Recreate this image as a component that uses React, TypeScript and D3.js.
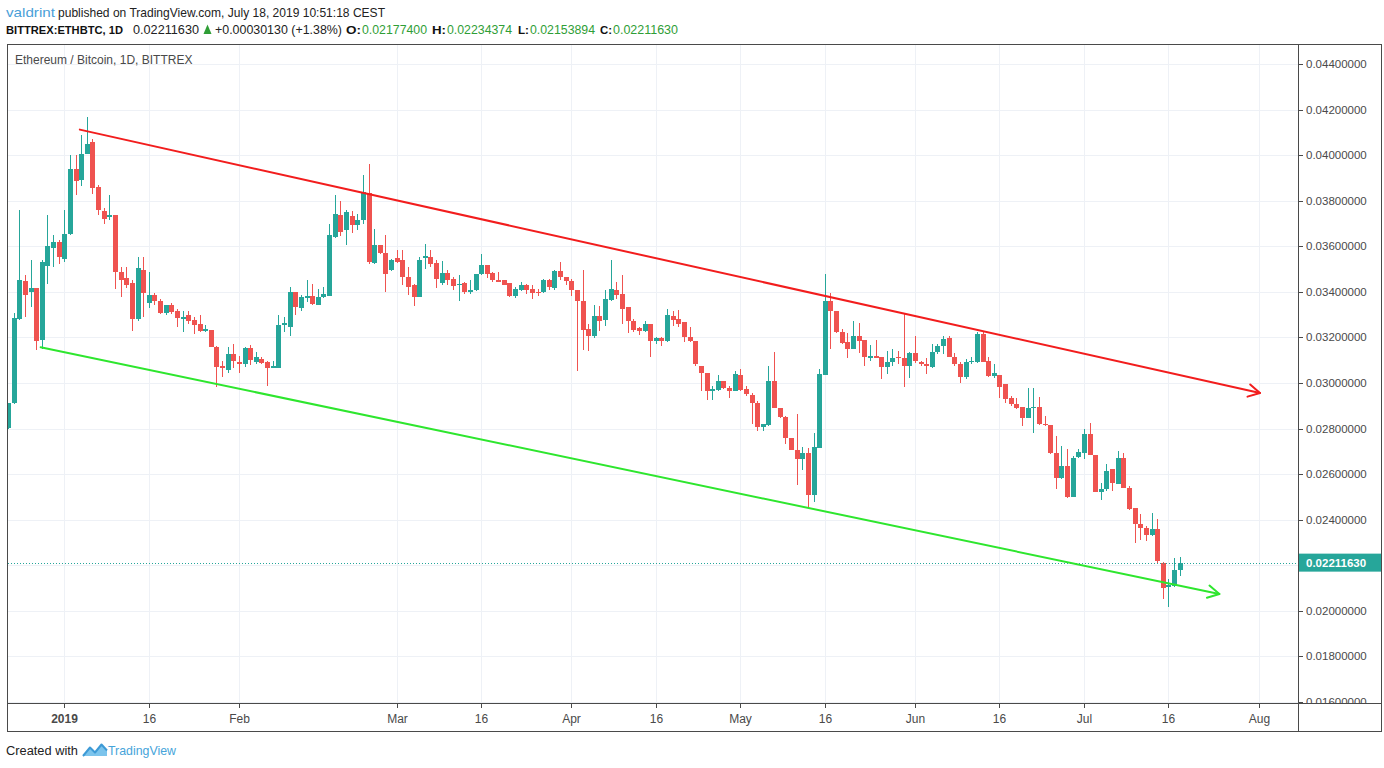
import React from "react";
import * as d3 from "d3";

// Prices are stored in units of 1e-5 BTC (e.g. 3452 = 0.03452000)
const UNIT = 1e-5;
const FIRST_DAY = "2018-12-22";

const opens = [
  2804, 2912, 3281, 3447, 3401, 3418, 3189, 3513, 3592, 3618,
  3545, 3652, 3938, 3890, 4007, 4056, 3858, 3755, 3728, 3736,
  3486, 3460, 3440, 3281, 3497, 3350, 3388, 3362, 3306, 3343,
  3315, 3279, 3299, 3277, 3259, 3230, 3233, 3159, 3076, 3058,
  3127, 3093, 3083, 3154, 3090, 3105, 3093, 3066, 3068, 3255,
  3247, 3398, 3330, 3374, 3384, 3344, 3376, 3384, 3640, 3736,
  3670, 3733, 3692, 3714, 3834, 3526, 3604, 3570, 3494, 3550,
  3538, 3467, 3428, 3376, 3550, 3552, 3526, 3440, 3484, 3457,
  3428, 3438, 3401, 3406, 3479, 3519, 3482, 3453, 3450, 3438,
  3384, 3406, 3428, 3413, 3401, 3398, 3453, 3418, 3490, 3464,
  3447, 3406, 3362, 3237, 3208, 3296, 3277, 3365, 3409, 3391,
  3332, 3271, 3242, 3227, 3259, 3183, 3198, 3183, 3296, 3281,
  3266, 3203, 3183, 3076, 3046, 2963, 2969, 3007, 2978, 2966,
  3035, 2973, 2948, 2914, 2807, 2816, 3007, 2890, 2851, 2760,
  2706, 2665, 2694, 2507, 2716, 3036, 3362, 3318, 3222, 3178,
  3149, 3205, 3189, 3110, 3120, 3115, 3071, 3090, 3115, 3110,
  3076, 3130, 3093, 3083, 3071, 3134, 3164, 3198, 3115, 3083,
  3027, 3090, 3093, 3215, 3098, 3032, 3036, 2995, 2934, 2910,
  2895, 2846, 2890, 2895, 2822, 2816, 2694, 2584, 2636, 2499,
  2675, 2694, 2778, 2684, 2523, 2533, 2621, 2558, 2672, 2540,
  2450, 2382, 2364, 2332, 2360, 2210, 2103, 2108, 2177.4,
];

const highs = [
  2914, 3307, 3758, 3476, 3542, 3419, 3542, 3736, 3648, 3626,
  3758, 4000, 4000, 4088, 4168, 4069, 3868, 3770, 3824, 3736,
  3511, 3508, 3450, 3552, 3555, 3486, 3394, 3369, 3343, 3350,
  3325, 3318, 3318, 3288, 3299, 3256, 3233, 3164, 3098, 3156,
  3171, 3120, 3156, 3168, 3137, 3112, 3098, 3098, 3300, 3291,
  3420, 3398, 3388, 3450, 3435, 3413, 3420, 3699, 3827, 3799,
  3758, 3755, 3740, 3915, 3960, 3674, 3607, 3648, 3545, 3585,
  3582, 3511, 3435, 3555, 3608, 3585, 3541, 3535, 3494, 3464,
  3475, 3442, 3450, 3479, 3567, 3519, 3486, 3486, 3453, 3438,
  3420, 3442, 3435, 3428, 3413, 3457, 3457, 3494, 3530, 3464,
  3457, 3406, 3494, 3259, 3344, 3340, 3406, 3538, 3442, 3476,
  3332, 3281, 3244, 3271, 3259, 3203, 3200, 3325, 3318, 3321,
  3266, 3244, 3186, 3076, 3046, 2988, 3036, 3010, 2988, 3051,
  3061, 2988, 2958, 2922, 2819, 3076, 3134, 2892, 2856, 2760,
  2866, 2719, 2716, 2782, 3061, 3479, 3394, 3318, 3237, 3218,
  3271, 3262, 3189, 3168, 3189, 3115, 3142, 3149, 3142, 3303,
  3134, 3208, 3098, 3110, 3171, 3171, 3208, 3208, 3130, 3090,
  3105, 3112, 3222, 3225, 3115, 3083, 3036, 2995, 2944, 2936,
  2895, 2978, 2978, 2939, 2856, 2816, 2768, 2724, 2709, 2680,
  2709, 2797, 2826, 2684, 2562, 2643, 2621, 2702, 2694, 2548,
  2452, 2423, 2372, 2430, 2401, 2215, 2142, 2232, 2234.374,
];

const lows = [
  2800, 2910, 3278, 3288, 3335, 3146, 3150, 3436, 3511, 3523,
  3530, 3648, 3824, 3863, 4007, 3831, 3736, 3699, 3717, 3413,
  3376, 3418, 3230, 3274, 3291, 3330, 3344, 3303, 3299, 3303,
  3244, 3222, 3259, 3215, 3222, 3222, 3156, 2983, 3027, 3046,
  3068, 3046, 3071, 3080, 3083, 3083, 2988, 3066, 3066, 3222,
  3208, 3300, 3318, 3354, 3344, 3344, 3374, 3381, 3637, 3643,
  3604, 3658, 3670, 3696, 3523, 3523, 3567, 3398, 3490, 3526,
  3432, 3388, 3340, 3376, 3501, 3508, 3418, 3432, 3431, 3406,
  3362, 3391, 3391, 3403, 3476, 3460, 3442, 3442, 3428, 3376,
  3374, 3403, 3391, 3369, 3384, 3396, 3409, 3409, 3453, 3428,
  3384, 3054, 3145, 3142, 3198, 3227, 3252, 3362, 3369, 3259,
  3218, 3222, 3212, 3222, 3115, 3171, 3164, 3178, 3252, 3244,
  3178, 3178, 3076, 2966, 2925, 2925, 2963, 2973, 2936, 2963,
  2966, 2944, 2822, 2790, 2790, 2812, 2892, 2848, 2731, 2705,
  2551, 2617, 2455, 2479, 2716, 3036, 3149, 3218, 3171, 3110,
  3149, 3130, 3076, 3098, 3110, 3017, 3039, 3076, 3083, 2983,
  3024, 3086, 3076, 3039, 3066, 3127, 3127, 3112, 3076, 2998,
  3017, 3083, 3086, 3090, 3027, 3024, 2936, 2914, 2900, 2885,
  2812, 2846, 2782, 2816, 2812, 2690, 2533, 2577, 2496, 2499,
  2672, 2665, 2684, 2523, 2485, 2526, 2526, 2555, 2538, 2441,
  2298, 2313, 2306, 2328, 2210, 2054, 2015, 2103, 2153.894,
];

const closes = [
  2914, 3285, 3450, 3388, 3416, 3186, 3533, 3601, 3618, 3552,
  3655, 3938, 3887, 4007, 4047, 3856, 3761, 3718, 3736, 3486,
  3454, 3428, 3281, 3506, 3394, 3388, 3362, 3308, 3343, 3313,
  3286, 3291, 3274, 3256, 3227, 3235, 3159, 3071, 3068, 3127,
  3098, 3083, 3154, 3101, 3112, 3086, 3068, 3076, 3256, 3262,
  3398, 3332, 3376, 3381, 3347, 3379, 3391, 3648, 3743, 3662,
  3752, 3692, 3717, 3840, 3533, 3607, 3570, 3479, 3541, 3533,
  3467, 3420, 3376, 3538, 3558, 3523, 3457, 3484, 3450, 3425,
  3435, 3398, 3409, 3479, 3519, 3479, 3450, 3445, 3431, 3384,
  3413, 3428, 3410, 3396, 3397, 3453, 3420, 3490, 3464, 3447,
  3406, 3358, 3234, 3208, 3296, 3274, 3369, 3413, 3388, 3325,
  3271, 3233, 3227, 3259, 3186, 3198, 3186, 3299, 3277, 3259,
  3203, 3183, 3083, 3046, 2966, 2973, 3007, 2978, 2966, 3039,
  2969, 2951, 2914, 2807, 2819, 3007, 2892, 2851, 2758, 2705,
  2665, 2694, 2507, 2719, 3039, 3362, 3318, 3222, 3174, 3149,
  3205, 3186, 3115, 3120, 3110, 3071, 3093, 3110, 3110, 3076,
  3130, 3095, 3083, 3076, 3134, 3164, 3193, 3115, 3083, 3027,
  3090, 3098, 3215, 3090, 3032, 3042, 2983, 2929, 2907, 2892,
  2846, 2892, 2895, 2822, 2816, 2694, 2584, 2636, 2499, 2672,
  2699, 2778, 2684, 2523, 2536, 2614, 2562, 2672, 2540, 2445,
  2382, 2364, 2332, 2360, 2218, 2100, 2115, 2181, 2211.63,
];

const priceTicks = [
  0.016, 0.018, 0.02, 0.022, 0.024, 0.026, 0.028, 0.03,
  0.032, 0.034, 0.036, 0.038, 0.04, 0.042, 0.044,
];

const dateTicks = [
  "2019-01-01", "2019-01-16", "2019-02-01", "2019-03-01", "2019-03-16",
  "2019-04-01", "2019-04-16", "2019-05-01", "2019-05-16", "2019-06-01",
  "2019-06-16", "2019-07-01", "2019-07-16", "2019-08-01",
];
const dateTickLabels = [
  "2019", "16", "Feb", "Mar", "16", "Apr", "16", "May", "16", "Jun",
  "16", "Jul", "16", "Aug",
];

const resistanceLine = [
  { t: "2019-01-03T18:00:00Z", p: 0.04112 },
  { t: "2019-08-01T06:00:00Z", p: 0.02956 },
];
const supportLine = [
  { t: "2018-12-27T19:00:00Z", p: 0.03157 },
  { t: "2019-07-25T01:00:00Z", p: 0.02074 },
];

const lastPrice = 0.0221163;
const viewStart = "2018-12-22";
const viewEnd = "2019-08-08";

const UP = "#26a69a";
const DOWN = "#ef5350";
const GRID = "#eef1f6";
const FRAME = "#4a4a4a";
const TEXT = "#4a4a4a";
const GREEN_TXT = "#2f9e36";

const parseDay = (s: string) => new Date(s + "T00:00:00Z");

export default function App() {
  const W = 1384;
  const H = 768;
  const left = 8;
  const right = 1298;
  const top = 45;
  const bottom = 703;
  const frameRight = 1381;
  const axisBottom = 731;

  const x = d3
    .scaleUtc()
    .domain([parseDay(viewStart), parseDay(viewEnd)])
    .range([left, right]);
  const y = d3.scaleLinear().domain([0.016, 0.044]).range([702, 64]);

  const first = parseDay(FIRST_DAY);
  const candles = opens.map((o, i) => ({
    date: d3.utcDay.offset(first, i),
    o: o * UNIT,
    h: highs[i] * UNIT,
    l: lows[i] * UNIT,
    c: closes[i] * UNIT,
  }));

  const arrow = (pts: { t: string; p: number }[], color: string) => {
    const x1 = x(new Date(pts[0].t));
    const y1 = y(pts[0].p);
    const x2 = x(new Date(pts[1].t));
    const y2 = y(pts[1].p);
    const a = Math.atan2(y2 - y1, x2 - x1);
    const L = 13;
    const phi = 0.5;
    const ax1 = x2 - L * Math.cos(a - phi);
    const ay1 = y2 - L * Math.sin(a - phi);
    const ax2 = x2 - L * Math.cos(a + phi);
    const ay2 = y2 - L * Math.sin(a + phi);
    return (
      <g stroke={color} strokeWidth={2} fill="none" strokeLinecap="round" strokeLinejoin="round">
        <line x1={x1} y1={y1} x2={x2} y2={y2} />
        <polyline points={`${ax1},${ay1} ${x2},${y2} ${ax2},${ay2}`} />
      </g>
    );
  };

  const lastY = y(lastPrice);
  const font = "'Liberation Sans', Arial, sans-serif";

  return (
    <svg
      width={W}
      height={H}
      viewBox={`0 0 ${W} ${H}`}
      style={{ position: "absolute", left: 0, top: 0, display: "block", background: "#fff" }}
      fontFamily={font}
    >
      <defs>
        <clipPath id="plot">
          <rect x={left} y={top} width={right - left} height={bottom - top} />
        </clipPath>
        <clipPath id="yaxis">
          <rect x={right} y={top} width={frameRight - right} height={bottom - top} />
        </clipPath>
      </defs>
      <rect x={0} y={0} width={W} height={H} fill="#fff" />

      {/* header line 1 */}
      <g fontSize={13}>
        <text x={6} y={17} fill="#4aa0d8" textLength={49} lengthAdjust="spacingAndGlyphs">valdrint</text>
        <text x={58} y={17} fill="#222" textLength={327} lengthAdjust="spacingAndGlyphs">
          published on TradingView.com, July 18, 2019 10:51:18 CEST
        </text>
      </g>
      {/* header line 2 */}
      <g fontSize={12}>
        <text x={6} y={34} fill="#111" fontWeight="bold" fontSize={11} textLength={117} lengthAdjust="spacingAndGlyphs">
          BITTREX:ETHBTC, 1D
        </text>
        <text x={133} y={34} fill="#222" textLength={66} lengthAdjust="spacingAndGlyphs">0.02211630</text>
        <path d="M203.5,34 L207.5,24.5 L211.5,34 Z" fill={GREEN_TXT} />
        <text x={215} y={34} fill="#222" textLength={127} lengthAdjust="spacingAndGlyphs">+0.00030130 (+1.38%)</text>
        <text x={346} y={34} fill="#111" fontWeight="bold" fontSize={11} textLength={15} lengthAdjust="spacingAndGlyphs">O:</text>
        <text x={362} y={34} fill={GREEN_TXT} textLength={65} lengthAdjust="spacingAndGlyphs">0.02177400</text>
        <text x={432} y={34} fill="#111" fontWeight="bold" fontSize={11} textLength={14} lengthAdjust="spacingAndGlyphs">H:</text>
        <text x={447} y={34} fill={GREEN_TXT} textLength={65} lengthAdjust="spacingAndGlyphs">0.02234374</text>
        <text x={518} y={34} fill="#111" fontWeight="bold" fontSize={11} textLength={11} lengthAdjust="spacingAndGlyphs">L:</text>
        <text x={530} y={34} fill={GREEN_TXT} textLength={65} lengthAdjust="spacingAndGlyphs">0.02153894</text>
        <text x={600} y={34} fill="#111" fontWeight="bold" fontSize={11} textLength={12} lengthAdjust="spacingAndGlyphs">C:</text>
        <text x={613} y={34} fill={GREEN_TXT} textLength={65} lengthAdjust="spacingAndGlyphs">0.02211630</text>
      </g>

      {/* grid */}
      <g stroke={GRID} strokeWidth={1} shapeRendering="crispEdges">
        {priceTicks.map((p) => (
          <line key={"h" + p} x1={left} x2={right} y1={Math.round(y(p)) + 0.5} y2={Math.round(y(p)) + 0.5} />
        ))}
        {dateTicks.map((d) => (
          <line key={"v" + d} x1={Math.round(x(parseDay(d))) + 0.5} x2={Math.round(x(parseDay(d))) + 0.5} y1={top} y2={bottom} />
        ))}
      </g>

      {/* candles */}
      <g clipPath="url(#plot)" shapeRendering="crispEdges">
        {candles.map((d, i) => {
          const cx = Math.round(x(d.date));
          const up = d.c >= d.o;
          const col = up ? UP : DOWN;
          const yt = y(Math.max(d.o, d.c));
          const yb = y(Math.min(d.o, d.c));
          const yh = y(d.h);
          const yl = y(d.l);
          return (
            <g key={i} fill={col}>
              <rect x={cx} y={yh} width={1} height={Math.max(1, yl - yh)} />
              <rect x={cx - 2} y={yt} width={5} height={Math.max(1, yb - yt)} />
            </g>
          );
        })}
      </g>

      {/* current price dotted line */}
      <line
        x1={left}
        x2={right}
        y1={Math.round(lastY) + 0.5}
        y2={Math.round(lastY) + 0.5}
        stroke={UP}
        strokeWidth={1}
        strokeDasharray="1 2"
      />

      {/* trend lines */}
      <g clipPath="url(#plot)">
        {arrow(resistanceLine, "#f21d1d")}
        {arrow(supportLine, "#2ee62e")}
      </g>

      {/* chart title */}
      <text x={15} y={64} fontSize={12} fill={TEXT}>
        Ethereum / Bitcoin, 1D, BITTREX
      </text>

      {/* frame */}
      <g stroke={FRAME} strokeWidth={1} fill="none" shapeRendering="crispEdges">
        <rect x={7.5} y={44.5} width={frameRight - 7.5} height={axisBottom - 44.5} />
        <line x1={right + 0.5} x2={right + 0.5} y1={44} y2={axisBottom} />
        <line x1={7} x2={frameRight} y1={bottom + 0.5} y2={bottom + 0.5} />
      </g>

      {/* y axis */}
      <g clipPath="url(#yaxis)" fontSize={11.5} fill={TEXT}>
        {priceTicks.map((p) => (
          <g key={"yt" + p}>
            <line
              x1={right + 1}
              x2={right + 5}
              y1={Math.round(y(p)) + 0.5}
              y2={Math.round(y(p)) + 0.5}
              stroke={FRAME}
              shapeRendering="crispEdges"
            />
            <text x={right + 8} y={y(p)} dominantBaseline="central">
              {p.toFixed(8)}
            </text>
          </g>
        ))}
      </g>

      {/* last price label */}
      <rect x={right + 1} y={lastY - 9} width={frameRight - right - 1} height={18} fill={UP} />
      <text x={right + 8} y={lastY} dominantBaseline="central" fontSize={11.5} fontWeight="bold" fill="#fff">
        {lastPrice.toFixed(8)}
      </text>

      {/* x axis */}
      <g fontSize={12} fill={TEXT}>
        {dateTicks.map((d, i) => {
          const tx = Math.round(x(parseDay(d))) + 0.5;
          return (
            <g key={"xt" + d}>
              <line x1={tx} x2={tx} y1={bottom + 1} y2={bottom + 5} stroke={FRAME} shapeRendering="crispEdges" />
              <text x={tx} y={719} textAnchor="middle" dominantBaseline="central" fontWeight={i === 0 ? "bold" : "normal"}>
                {dateTickLabels[i]}
              </text>
            </g>
          );
        })}
      </g>

      {/* footer */}
      <text x={6} y={755} fontSize={12.5} fill="#222" textLength={72} lengthAdjust="spacingAndGlyphs">
        Created with
      </text>
      <g>
        <path d="M83,756 L90,747.5 L95,752.5 L101.5,744.5 L107,750.5 L107,756 Z" fill="#7cc4ec" />
        <path d="M83,756 L90,747.5 L95,752.5 L101.5,744.5 L107,750.5" fill="none" stroke="#3d9ad6" strokeWidth={2} strokeLinejoin="round" />
      </g>
      <text x={108} y={755} fontSize={13} fill="#46a4da" textLength={68} lengthAdjust="spacingAndGlyphs">
        TradingView
      </text>
    </svg>
  );
}
